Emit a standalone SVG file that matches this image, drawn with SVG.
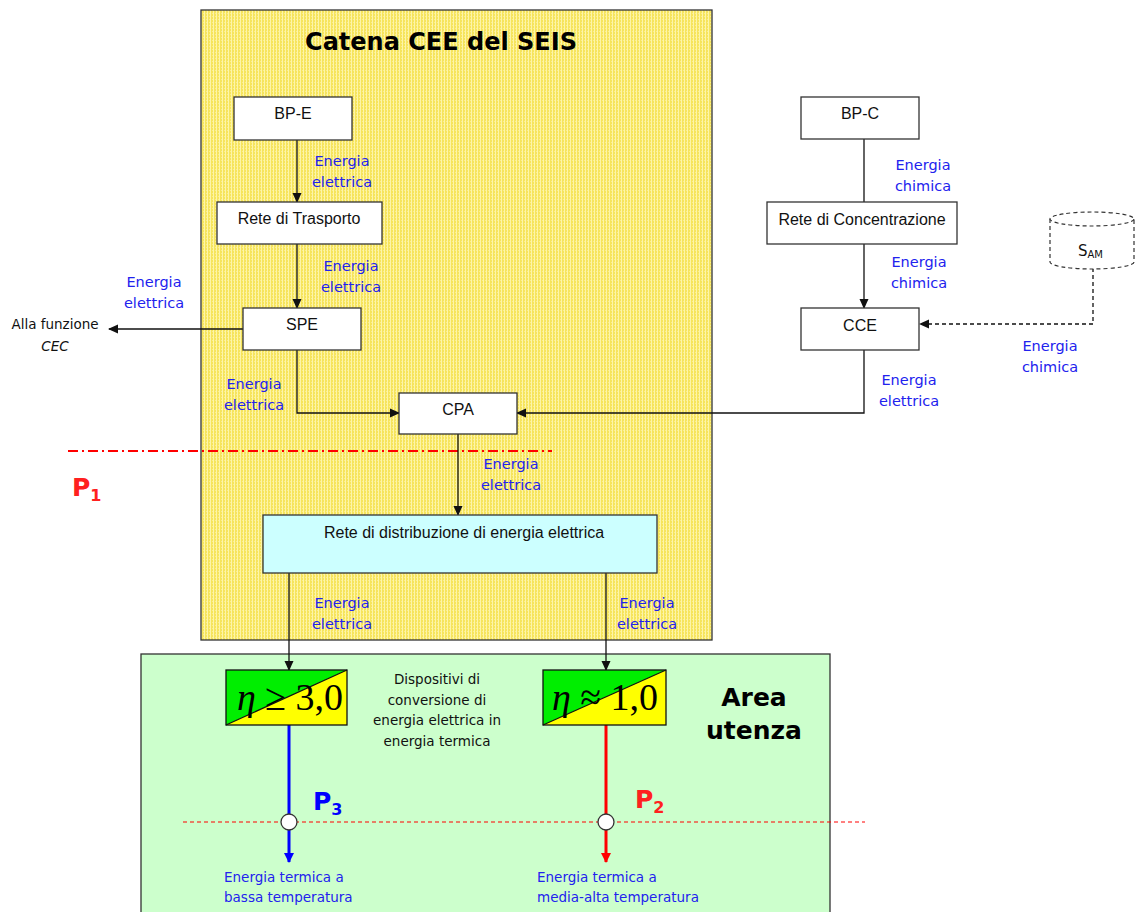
<svg xmlns="http://www.w3.org/2000/svg" width="1136" height="912" viewBox="0 0 1136 912">
<style>
.node{fill:#fff;stroke:#333;stroke-width:1.3}
.nl{font-family:"Liberation Sans",Arial,sans-serif;font-size:16px;fill:#111;text-anchor:middle}
.bl{font-family:"DejaVu Sans",sans-serif;font-size:14.5px;fill:#2222EE;text-anchor:middle}
.bk{font-family:"DejaVu Sans",sans-serif;font-size:13.5px;fill:#111;text-anchor:middle}
.bll{font-family:"DejaVu Sans",sans-serif;font-size:13.5px;fill:#2222EE}
.ln{fill:none;stroke:#111;stroke-width:1.3}
.eta{font-family:"Liberation Serif","Times New Roman",serif;font-size:38px;fill:#000;text-anchor:middle}
.pl{font-family:"DejaVu Sans",sans-serif;font-weight:bold;font-size:25px}
.ttl{font-family:"DejaVu Sans",sans-serif;font-weight:bold;text-anchor:middle}
</style>
<defs>
<pattern id="dots" width="3" height="3" patternUnits="userSpaceOnUse">
<rect width="3" height="3" fill="#F6E45C"/>
<rect x="0" y="0" width="1" height="3" fill="#FDF5A8"/>
<rect x="2" y="1" width="1" height="1" fill="#FBEF90"/>
</pattern>
<marker id="ar" markerWidth="10" markerHeight="10" refX="9" refY="5" orient="auto" markerUnits="userSpaceOnUse">
<path d="M0,0.5 L10,5 L0,9.5 Z" fill="#111"/>
</marker>
<marker id="arB" markerWidth="10" markerHeight="12" refX="9" refY="5" orient="auto" markerUnits="userSpaceOnUse">
<path d="M0,0 L10,5 L0,10 Z" fill="#0000FF"/>
</marker>
<marker id="arR" markerWidth="10" markerHeight="12" refX="9" refY="5" orient="auto" markerUnits="userSpaceOnUse">
<path d="M0,0 L10,5 L0,10 Z" fill="#FF0000"/>
</marker>
</defs>
<rect width="1136" height="912" fill="#fff"/>

<g id="area-seis">
<rect x="201" y="10" width="511" height="630" fill="url(#dots)" stroke="#333" stroke-width="1.3"/>
<text class="ttl" x="441" y="50" font-size="24">Catena CEE del SEIS</text>
</g>
<g id="area-utenza">
<rect x="141" y="654" width="689" height="270" fill="#CCFFCC" stroke="#333" stroke-width="1.3"/>
<text class="ttl" x="754" y="706" font-size="25">Area</text>
<text class="ttl" x="754" y="739" font-size="25">utenza</text>
</g>

<g id="lines-p">
<line x1="68" y1="451" x2="552" y2="451" stroke="#FF0000" stroke-width="2" stroke-dasharray="10,4,2,4"/>
<line x1="183" y1="822" x2="865" y2="822" stroke="#FF0000" stroke-width="1" stroke-dasharray="4,3"/>
<text class="pl" x="72" y="496" fill="#FF2020">P<tspan font-size="16" dy="5">1</tspan></text>
<text class="pl" x="313" y="810" fill="#0000FF">P<tspan font-size="16" dy="5">3</tspan></text>
<text class="pl" x="635" y="808" fill="#FF2020">P<tspan font-size="16" dy="5">2</tspan></text>
</g>

<g id="connectors">
<line class="ln" x1="297" y1="140" x2="297" y2="202" marker-end="url(#ar)"/>
<line class="ln" x1="297" y1="244" x2="297" y2="308" marker-end="url(#ar)"/>
<line class="ln" x1="243" y1="329" x2="109" y2="329" marker-end="url(#ar)"/>
<polyline class="ln" points="297,350 297,413 399,413" marker-end="url(#ar)"/>
<line class="ln" x1="864" y1="139" x2="864" y2="202"/>
<line class="ln" x1="864" y1="244" x2="864" y2="308" marker-end="url(#ar)"/>
<polyline class="ln" points="1093,268 1093,324 920,324" stroke-dasharray="4,3" marker-end="url(#ar)"/>
<polyline class="ln" points="864,350 864,413 517,413" marker-end="url(#ar)"/>
<line class="ln" x1="458" y1="434" x2="458" y2="515" marker-end="url(#ar)"/>
<line class="ln" x1="289" y1="573" x2="289" y2="670" marker-end="url(#ar)"/>
<line class="ln" x1="606" y1="573" x2="606" y2="670" marker-end="url(#ar)"/>
<line x1="289" y1="725" x2="289" y2="862" stroke="#0000FF" stroke-width="3" marker-end="url(#arB)"/>
<line x1="606" y1="725" x2="606" y2="862" stroke="#FF0000" stroke-width="3" marker-end="url(#arR)"/>
<circle cx="289" cy="822" r="8" fill="#fff" stroke="#333" stroke-width="1.3"/>
<circle cx="606" cy="822" r="8" fill="#fff" stroke="#333" stroke-width="1.3"/>
</g>

<g id="labels">
<text class="bl" x="342" y="166">Energia</text><text class="bl" x="342" y="187">elettrica</text>
<text class="bl" x="351" y="271">Energia</text><text class="bl" x="351" y="292">elettrica</text>
<text class="bl" x="154" y="287">Energia</text><text class="bl" x="154" y="308">elettrica</text>
<text class="bl" x="254" y="389">Energia</text><text class="bl" x="254" y="410">elettrica</text>
<text class="bl" x="511" y="469">Energia</text><text class="bl" x="511" y="490">elettrica</text>
<text class="bl" x="342" y="608">Energia</text><text class="bl" x="342" y="629">elettrica</text>
<text class="bl" x="647" y="608">Energia</text><text class="bl" x="647" y="629">elettrica</text>
<text class="bl" x="923" y="170">Energia</text><text class="bl" x="923" y="191">chimica</text>
<text class="bl" x="919" y="267">Energia</text><text class="bl" x="919" y="288">chimica</text>
<text class="bl" x="909" y="385">Energia</text><text class="bl" x="909" y="406">elettrica</text>
<text class="bl" x="1050" y="351">Energia</text><text class="bl" x="1050" y="372">chimica</text>
<text class="bk" x="55" y="329">Alla funzione</text><text class="bk" x="55" y="351" font-style="italic">CEC</text>
<text class="bk" x="437" y="684">Dispositivi di</text>
<text class="bk" x="437" y="705">conversione di</text>
<text class="bk" x="437" y="725">energia elettrica in</text>
<text class="bk" x="437" y="746">energia termica</text>
<text class="bll" x="224" y="882">Energia termica a</text><text class="bll" x="224" y="902">bassa temperatura</text>
<text class="bll" x="537" y="882">Energia termica a</text><text class="bll" x="537" y="902">media-alta temperatura</text>
</g>

<g id="bp-e"><rect class="node" x="234" y="97" width="118" height="43"/><text class="nl" x="293" y="119">BP-E</text></g>
<g id="rete-trasporto"><rect class="node" x="217" y="202" width="165" height="42"/><text class="nl" x="299" y="224">Rete di Trasporto</text></g>
<g id="spe"><rect class="node" x="243" y="308" width="118" height="42"/><text class="nl" x="302" y="330">SPE</text></g>
<g id="cpa"><rect class="node" x="399" y="393" width="118" height="41"/><text class="nl" x="458" y="415">CPA</text></g>
<g id="rete-distribuzione"><rect class="node" x="263" y="515" width="394" height="58" style="fill:#CCFFFF"/><text class="nl" x="464" y="538">Rete di distribuzione di energia elettrica</text></g>
<g id="bp-c"><rect class="node" x="801" y="97" width="118" height="42"/><text class="nl" x="860" y="119">BP-C</text></g>
<g id="rete-concentrazione"><rect class="node" x="767" y="202" width="190" height="42"/><text class="nl" x="862" y="225">Rete di Concentrazione</text></g>
<g id="cce"><rect class="node" x="801" y="308" width="118" height="42"/><text class="nl" x="860" y="331">CCE</text></g>
<g id="s-am">
<path d="M1050,219 L1050,262 A42,7 0 0 0 1134,262 L1134,219" fill="#fff" stroke="#333" stroke-width="1.2" stroke-dasharray="4,3"/>
<ellipse cx="1092" cy="219" rx="42" ry="7" fill="#fff" stroke="#333" stroke-width="1.2" stroke-dasharray="4,3"/>
<text x="1078" y="256" font-family="DejaVu Sans,sans-serif" font-size="15" fill="#111">S<tspan font-size="10" dy="2">AM</tspan></text>
</g>
<g id="eta-hp">
<rect x="226" y="670" width="121" height="55" fill="#FFFF00"/>
<polygon points="226,670 347,670 226,725" fill="#00EE00"/>
<line x1="226" y1="725" x2="347" y2="670" stroke="#111" stroke-width="1.2"/>
<rect x="226" y="670" width="121" height="55" fill="none" stroke="#111" stroke-width="1.3"/>
<text class="eta" x="290" y="710"><tspan font-style="italic">η</tspan> ≥ 3,0</text>
</g>
<g id="eta-res">
<rect x="543" y="670" width="123" height="55" fill="#FFFF00"/>
<polygon points="543,670 666,670 543,725" fill="#00EE00"/>
<line x1="543" y1="725" x2="666" y2="670" stroke="#111" stroke-width="1.2"/>
<rect x="543" y="670" width="123" height="55" fill="none" stroke="#111" stroke-width="1.3"/>
<text class="eta" x="605" y="710"><tspan font-style="italic">η</tspan> ≈ 1,0</text>
</g>
</svg>
